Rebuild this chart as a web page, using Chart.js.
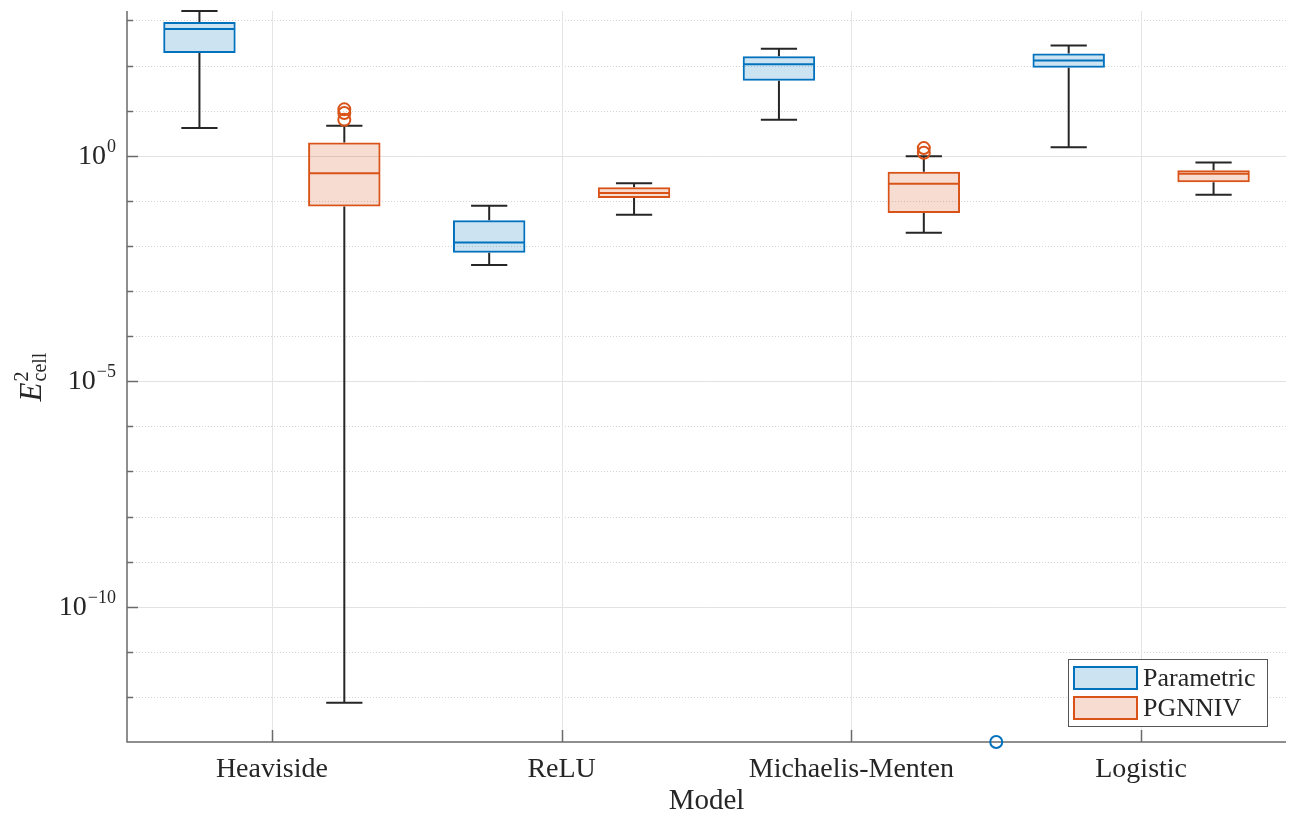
<!DOCTYPE html>
<html>
<head>
<meta charset="utf-8">
<script src="https://cdn.jsdelivr.net/npm/chart.js@4.4.0/dist/chart.umd.min.js"></script>
<style>
  html, body { margin: 0; padding: 0; background: #fff; }
  #wrap { width: 1290px; height: 816px; }
</style>
</head>
<body>
<div id="wrap"><canvas id="myChart"></canvas></div>
<script>
// categories
var models = ['Heaviside', 'ReLU', 'Michaelis-Menten', 'Logistic'];

// Parametric: lower whisker, Q1, median, Q3, upper whisker
var paramLow  = [4.1, 0.0038, 6.3, 1.55];
var paramQ1   = [190, 0.0071, 46, 89];
var paramMed  = [650, 0.012, 107, 129];
var paramQ3   = [930, 0.037, 160, 186];
var paramHigh = [1620, 0.078, 235, 280];
// outliers: position on the category axis, value
var paramOutPos = [2.5];
var paramOutVal = [1e-13];

// PGNNIV
var pgLow  = [7.4e-13, 0.049, 0.0195, 0.136];
var pgQ1   = [0.075, 0.115, 0.054, 0.26];
var pgMed  = [0.41, 0.15, 0.24, 0.40];
var pgQ3   = [1.97, 0.20, 0.44, 0.48];
var pgHigh = [4.6, 0.245, 0.97, 0.71];
var pgOutPos = [0.25, 0.25, 0.25, 2.25, 2.25];
var pgOutVal = [10.7, 8.9, 6.3, 1.48, 1.17];

// y axis: decades shown, labelled decades
var yDecades = [-12, -11, -10, -9, -8, -7, -6, -5, -4, -3, -2, -1, 0, 1, 2, 3];
var yLabelDecades = [0, -5, -10];

var blue = '#0072BD', orange = '#D95319', ink = '#262626';
var serif = '"Liberation Serif", "Times New Roman", serif';

var series = [
  { low: paramLow, med: paramMed, high: paramHigh, outPos: paramOutPos, outVal: paramOutVal, color: blue },
  { low: pgLow, med: pgMed, high: pgHigh, outPos: pgOutPos, outVal: pgOutVal, color: orange }
];

function sup(n) { return n < 0 ? '\u2212' + (-n) : String(n); }

var boxPlugin = {
  id: 'boxPlot',
  beforeDatasetsDraw: function(chart) {
    var c = chart.ctx, a = chart.chartArea, xs = chart.scales.x, ys = chart.scales.y;
    c.save();
    c.lineWidth = 1;
    // horizontal grid
    yDecades.forEach(function(e) {
      var y = Math.round(ys.getPixelForValue(Math.pow(10, e))) + 0.5;
      var major = e % 5 === 0;
      c.strokeStyle = major ? '#e2e2e2' : '#d4d4d4';
      c.setLineDash(major ? [] : [1, 2]);
      c.beginPath(); c.moveTo(a.left, y); c.lineTo(a.right, y); c.stroke();
    });
    c.setLineDash([]);
    // vertical grid
    c.strokeStyle = '#e4e4e4';
    models.forEach(function(m, i) {
      var x = Math.round(xs.getPixelForValue(i)) + 0.5;
      c.beginPath(); c.moveTo(x, a.top); c.lineTo(x, a.bottom); c.stroke();
    });
    // axes
    c.strokeStyle = '#6a6a6a';
    c.lineWidth = 1.5;
    c.beginPath();
    c.moveTo(a.left, a.top); c.lineTo(a.left, a.bottom); c.lineTo(a.right, a.bottom);
    c.stroke();
    // tick marks
    yDecades.forEach(function(e) {
      var y = Math.round(ys.getPixelForValue(Math.pow(10, e))) + 0.5;
      c.beginPath(); c.moveTo(a.left, y); c.lineTo(a.left + (e % 5 === 0 ? 11 : 6), y); c.stroke();
    });
    models.forEach(function(m, i) {
      var x = Math.round(xs.getPixelForValue(i)) + 0.5;
      c.beginPath(); c.moveTo(x, a.bottom); c.lineTo(x, a.bottom - 12); c.stroke();
    });
    c.restore();
  },
  afterDatasetsDraw: function(chart) {
    var c = chart.ctx, xs = chart.scales.x, ys = chart.scales.y;
    c.save();
    series.forEach(function(s, d) {
      var meta = chart.getDatasetMeta(d);
      meta.data.forEach(function(bar, i) {
        var x = bar.x, w = bar.width;
        var yq3 = Math.min(bar.y, bar.base), yq1 = Math.max(bar.y, bar.base);
        var yHi = ys.getPixelForValue(s.high[i]), yLo = ys.getPixelForValue(s.low[i]);
        c.strokeStyle = ink; c.lineWidth = 2;
        c.beginPath();
        c.moveTo(x, yq3); c.lineTo(x, yHi);
        c.moveTo(x - w / 4, yHi); c.lineTo(x + w / 4, yHi);
        c.moveTo(x, yq1); c.lineTo(x, yLo);
        c.moveTo(x - w / 4, yLo); c.lineTo(x + w / 4, yLo);
        c.stroke();
        var yM = ys.getPixelForValue(s.med[i]);
        c.strokeStyle = s.color;
        c.beginPath(); c.moveTo(x - w / 2 + 1, yM); c.lineTo(x + w / 2 - 1, yM); c.stroke();
      });
      c.strokeStyle = s.color; c.lineWidth = 2;
      s.outPos.forEach(function(p, k) {
        var px = xs.getPixelForValue(p), py = ys.getPixelForValue(s.outVal[k]);
        c.beginPath(); c.arc(px, py, 6, 0, Math.PI * 2); c.stroke();
      });
    });
    c.restore();
  },
  afterDraw: function(chart) {
    var c = chart.ctx, a = chart.chartArea, ys = chart.scales.y;
    c.save();
    c.fillStyle = ink;
    // y tick labels 10^n
    c.textBaseline = 'alphabetic';
    yLabelDecades.forEach(function(e) {
      var y = ys.getPixelForValue(Math.pow(10, e));
      c.font = '18px ' + serif;
      var s = sup(e), sw = c.measureText(s).width;
      var sx = 116 - sw;
      c.textAlign = 'left';
      c.fillText(s, sx, y - 4);
      c.font = '28px ' + serif;
      c.textAlign = 'right';
      c.fillText('10', sx - 1, y + 8);
    });
    // y axis title E^2_cell
    c.translate(41, 377);
    c.rotate(-Math.PI / 2);
    c.font = 'italic 31px ' + serif;
    var eW = c.measureText('E').width;
    c.font = '20px ' + serif;
    var cW = c.measureText('cell').width;
    var x0 = -(eW + cW + 1) / 2;
    c.font = 'italic 31px ' + serif;
    c.textAlign = 'left';
    c.fillText('E', x0, 0);
    c.font = '20px ' + serif;
    c.fillText('2', x0 + eW + 1, -13);
    c.fillText('cell', x0 + eW + 1, 5);
    c.setTransform(1, 0, 0, 1, 0, 0);
    // x axis title
    c.font = '29px ' + serif;
    c.textAlign = 'center';
    c.fillText('Model', (a.left + a.right) / 2, 809);
    // legend
    var lx = 1068, ly = 659, lw = 199, lh = 67;
    c.fillStyle = '#fff';
    c.fillRect(lx, ly, lw, lh);
    c.strokeStyle = '#555'; c.lineWidth = 1;
    c.strokeRect(lx + 0.5, ly + 0.5, lw, lh);
    chart.data.datasets.forEach(function(ds, d) {
      var py = ly + 8 + d * 30;
      c.fillStyle = ds.backgroundColor;
      c.fillRect(lx + 6, py, 63, 22);
      c.strokeStyle = ds.borderColor; c.lineWidth = 2;
      c.strokeRect(lx + 6, py, 63, 22);
      c.fillStyle = ink;
      c.font = '26px ' + serif;
      c.textAlign = 'left';
      c.fillText(ds.label, lx + 75, py + 19);
    });
    c.restore();
  }
};

var ctx = document.getElementById('myChart').getContext('2d');
var myChart = new Chart(ctx, {
  type: 'bar',
  data: {
    labels: models,
    datasets: [{
      label: 'Parametric',
      data: models.map(function(m, i) { return [paramQ1[i], paramQ3[i]]; }),
      backgroundColor: 'rgba(0,114,189,0.2)',
      borderColor: blue,
      borderWidth: 2,
      borderSkipped: false,
      categoryPercentage: 1.0,
      barPercentage: 0.5
    }, {
      label: 'PGNNIV',
      data: models.map(function(m, i) { return [pgQ1[i], pgQ3[i]]; }),
      backgroundColor: 'rgba(217,83,25,0.2)',
      borderColor: orange,
      borderWidth: 2,
      borderSkipped: false,
      categoryPercentage: 1.0,
      barPercentage: 0.5
    }]
  },
  options: {
    responsive: true,
    maintainAspectRatio: false,
    animation: false,
    layout: { padding: { top: 11, right: 4, left: 0, bottom: 0 } },
    scales: {
      x: {
        grid: { display: false, drawTicks: false },
        border: { display: false },
        ticks: { font: { family: serif, size: 28 }, color: ink, padding: 11, maxRotation: 0 },
        afterFit: function(s) { s.height = 74; }
      },
      y: {
        type: 'logarithmic',
        min: 1e-13,
        max: Math.pow(10, 3.21),
        grid: { display: false, drawTicks: false },
        border: { display: false },
        ticks: { display: false },
        afterFit: function(s) { s.width = 127; }
      }
    },
    plugins: {
      legend: { display: false },
      tooltip: { enabled: false }
    }
  },
  plugins: [boxPlugin]
});
</script>
</body>
</html>
